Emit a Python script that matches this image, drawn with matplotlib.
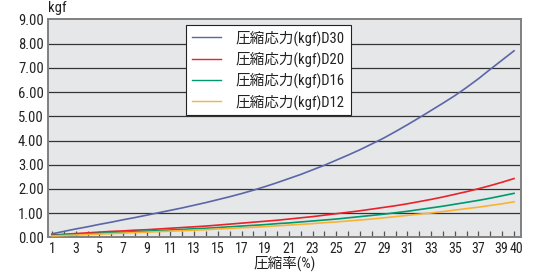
import matplotlib
matplotlib.use("Agg")
import matplotlib.pyplot as plt
import matplotlib.transforms as mtransforms
from matplotlib.ticker import FixedLocator, FixedFormatter

FONTS = ['Roboto Condensed', 'Noto Sans CJK JP', 'DejaVu Sans']
plt.rcParams['font.family'] = FONTS

x = list(range(1, 41))
d30 = [0.15, 0.25, 0.35, 0.44, 0.54, 0.63, 0.73, 0.82, 0.92, 1.02,
       1.12, 1.22, 1.33, 1.44, 1.56, 1.68, 1.81, 1.95, 2.10, 2.26,
       2.43, 2.60, 2.79, 2.98, 3.19, 3.40, 3.62, 3.86, 4.10, 4.37,
       4.65, 4.94, 5.24, 5.54, 5.85, 6.19, 6.55, 6.94, 7.32, 7.70]
d20 = [0.10, 0.13, 0.16, 0.19, 0.22, 0.25, 0.27, 0.30, 0.32, 0.35,
       0.38, 0.41, 0.44, 0.47, 0.51, 0.55, 0.59, 0.63, 0.67, 0.71,
       0.76, 0.81, 0.86, 0.92, 0.98, 1.04, 1.10, 1.17, 1.24, 1.31,
       1.39, 1.48, 1.57, 1.67, 1.78, 1.89, 2.01, 2.14, 2.28, 2.43]
d16 = [0.08, 0.11, 0.13, 0.15, 0.17, 0.19, 0.21, 0.24, 0.26, 0.28,
       0.31, 0.33, 0.36, 0.38, 0.41, 0.44, 0.47, 0.50, 0.53, 0.57,
       0.60, 0.64, 0.68, 0.72, 0.76, 0.81, 0.86, 0.91, 0.96, 1.02,
       1.08, 1.15, 1.22, 1.29, 1.37, 1.45, 1.53, 1.62, 1.72, 1.82]
d12 = [0.06, 0.08, 0.10, 0.12, 0.14, 0.16, 0.18, 0.20, 0.22, 0.24,
       0.26, 0.28, 0.30, 0.32, 0.35, 0.37, 0.40, 0.42, 0.45, 0.48,
       0.51, 0.54, 0.57, 0.61, 0.64, 0.68, 0.72, 0.76, 0.81, 0.86,
       0.91, 0.96, 1.01, 1.07, 1.13, 1.19, 1.25, 1.32, 1.39, 1.47]
series_labels = ['圧縮応力(kgf)D30', '圧縮応力(kgf)D20', '圧縮応力(kgf)D16', '圧縮応力(kgf)D12']
colors = ['#5b66a6', '#e8232a', '#00996b', '#f9b333']
y_ticks = [0, 1, 2, 3, 4, 5, 6, 7, 8, 9]
x_tick_labels = [str(v) if (v % 2 == 1 or v == 40) else '' for v in x]

fig = plt.figure(figsize=(5.51, 2.72), dpi=100)
ax = fig.add_axes([0.087, 0.127, 0.8586, 0.802])
ax.set_facecolor('#e6e7e9')

for yv in y_ticks[1:-1]:
    ax.axhline(yv, color='#333333', lw=0.9, zorder=1)

for data, lab, c in zip([d30, d20, d16, d12], series_labels, colors):
    ax.plot(x, data, color=c, lw=1.2, label=lab, zorder=3)

ax.set_xlim(0.66, 40.59)
ax.set_ylim(0, 9)
ax.xaxis.set_major_locator(FixedLocator(x))
ax.xaxis.set_major_formatter(FixedFormatter(x_tick_labels))
ax.set_yticks(y_ticks)
ax.set_yticklabels([f'{v:.2f}' for v in y_ticks])
ax.tick_params(axis='x', direction='in', length=4, width=0.9, color='#555555',
               labelsize=10, pad=3, labelcolor='#222222')
ax.tick_params(axis='y', length=0, labelsize=10.5, pad=3, labelcolor='#222222')
for s in ax.spines.values():
    s.set_color('#808080')
    s.set_linewidth(1.4)

# nudge the last two x tick labels apart slightly (they touch in the reference)
fig.canvas.draw()
xlabels = ax.get_xticklabels()
xlabels[-1].set_transform(xlabels[-1].get_transform() +
                          mtransforms.ScaledTranslation(2.5 / 100, 0, fig.dpi_scale_trans))
xlabels[-2].set_transform(xlabels[-2].get_transform() +
                          mtransforms.ScaledTranslation(-0.5 / 100, 0, fig.dpi_scale_trans))

ax.set_xlabel('圧縮率(%)', fontsize=10.5, color='#222222', labelpad=0)
fig.text(0.088, 0.945, 'kgf', fontsize=10.5, color='#222222', ha='left', va='bottom')

leg = ax.legend(loc='upper left', bbox_to_anchor=(0.292, 0.976), borderaxespad=0,
                frameon=True, fancybox=False, framealpha=1, edgecolor='#222222',
                handlelength=2.0, handletextpad=1.0, labelspacing=0.4,
                borderpad=0.4, prop={'family': FONTS, 'size': 10.5})
leg.get_frame().set_linewidth(0.8)
for t in leg.get_texts():
    t.set_color('#222222')
for line in leg.get_lines():
    line.set_linewidth(1.0)

fig.savefig('out.png', dpi=100)
